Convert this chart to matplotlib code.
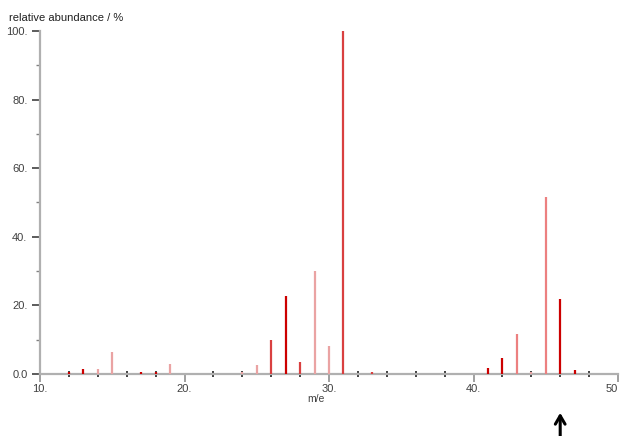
import matplotlib
matplotlib.use("Agg")
import matplotlib.pyplot as plt
from matplotlib.ticker import MultipleLocator, FixedFormatter, FixedLocator

mz = [12, 13, 14, 15, 17, 18, 19, 24, 25, 26, 27, 28, 29, 30, 31, 33,
      41, 42, 43, 44, 45, 46, 47]
abundance = [0.5, 1.5, 1.4, 6.5, 0.6, 0.5, 2.9, 0.5, 2.6, 9.9, 22.7, 3.6,
             30.0, 8.2, 100.0, 0.5, 1.7, 4.7, 11.6, 0.7, 51.7, 21.9, 1.1]
shade = ['d', 'd', 'l', 'l', 'd', 'd', 'l', 'l', 'l', 'm', 'd', 'm',
         'l', 'l', 'm', 'm', 'd', 'd', 'p', 'l', 'p', 'd', 'd']
shade_colors = {'d': '#cc0000', 'm': '#d94040', 'l': '#eaa3a3', 'p': '#ec8080'}

x_ticks = [10, 20, 30, 40, 50]
x_labels = ['10.', '20.', '30.', '40.', '50']
y_ticks = [0, 20, 40, 60, 80, 100]
y_labels = ['0.0', '20.', '40.', '60.', '80.', '100.']
arrow_mz = 46

plt.rcParams['font.family'] = ['Liberation Sans', 'DejaVu Sans']
fig = plt.figure(figsize=(6.22, 4.36), dpi=100)
ax = fig.add_axes([40/622, 1-374/436, 578/622, 343/436])

ax.vlines(mz, 0, abundance, colors=[shade_colors[s] for s in shade], linewidth=1.6, zorder=3)

ax.set_xlim(10, 50)
ax.set_ylim(0, 100)
for s in ['top', 'right']:
    ax.spines[s].set_visible(False)
for s in ['left', 'bottom']:
    ax.spines[s].set_color('#b0b0b0')
    ax.spines[s].set_linewidth(1.6)

ax.xaxis.set_major_locator(FixedLocator(x_ticks))
ax.xaxis.set_major_formatter(FixedFormatter(x_labels))
ax.xaxis.set_minor_locator(MultipleLocator(2))
ax.yaxis.set_major_locator(FixedLocator(y_ticks))
ax.yaxis.set_major_formatter(FixedFormatter(y_labels))
ax.yaxis.set_minor_locator(MultipleLocator(10))

ax.tick_params(axis='x', which='major', direction='out', length=6, width=1.2,
               color='#909090', labelsize=8, labelcolor='#404040', pad=1)
ax.tick_params(axis='x', which='minor', direction='inout', length=5, width=1.2,
               color='#202020')
ax.tick_params(axis='y', which='major', direction='out', length=6, width=1.2,
               color='#404040', labelsize=8, labelcolor='#404040', pad=3)
ax.tick_params(axis='y', which='minor', direction='out', length=3, width=1.0,
               color='#808080')

fig.canvas.draw()
ax.get_xticklabels()[-1].set_horizontalalignment('right')

ax.set_xlabel('m/e', fontsize=7.5, color='#404040')
ax.xaxis.set_label_coords((316-40)/578, -0.058)
fig.text(9/622, 1-18/436, 'relative abundance / %', fontsize=8, color='#202020',
         va='center', ha='left')

ax.annotate('', xy=(arrow_mz, -10.5), xytext=(arrow_mz, -19),
            xycoords='data', annotation_clip=False,
            arrowprops=dict(arrowstyle='->,head_length=0.6,head_width=0.35',
                            color='black', lw=2.2))

fig.savefig('out.png', dpi=100)
